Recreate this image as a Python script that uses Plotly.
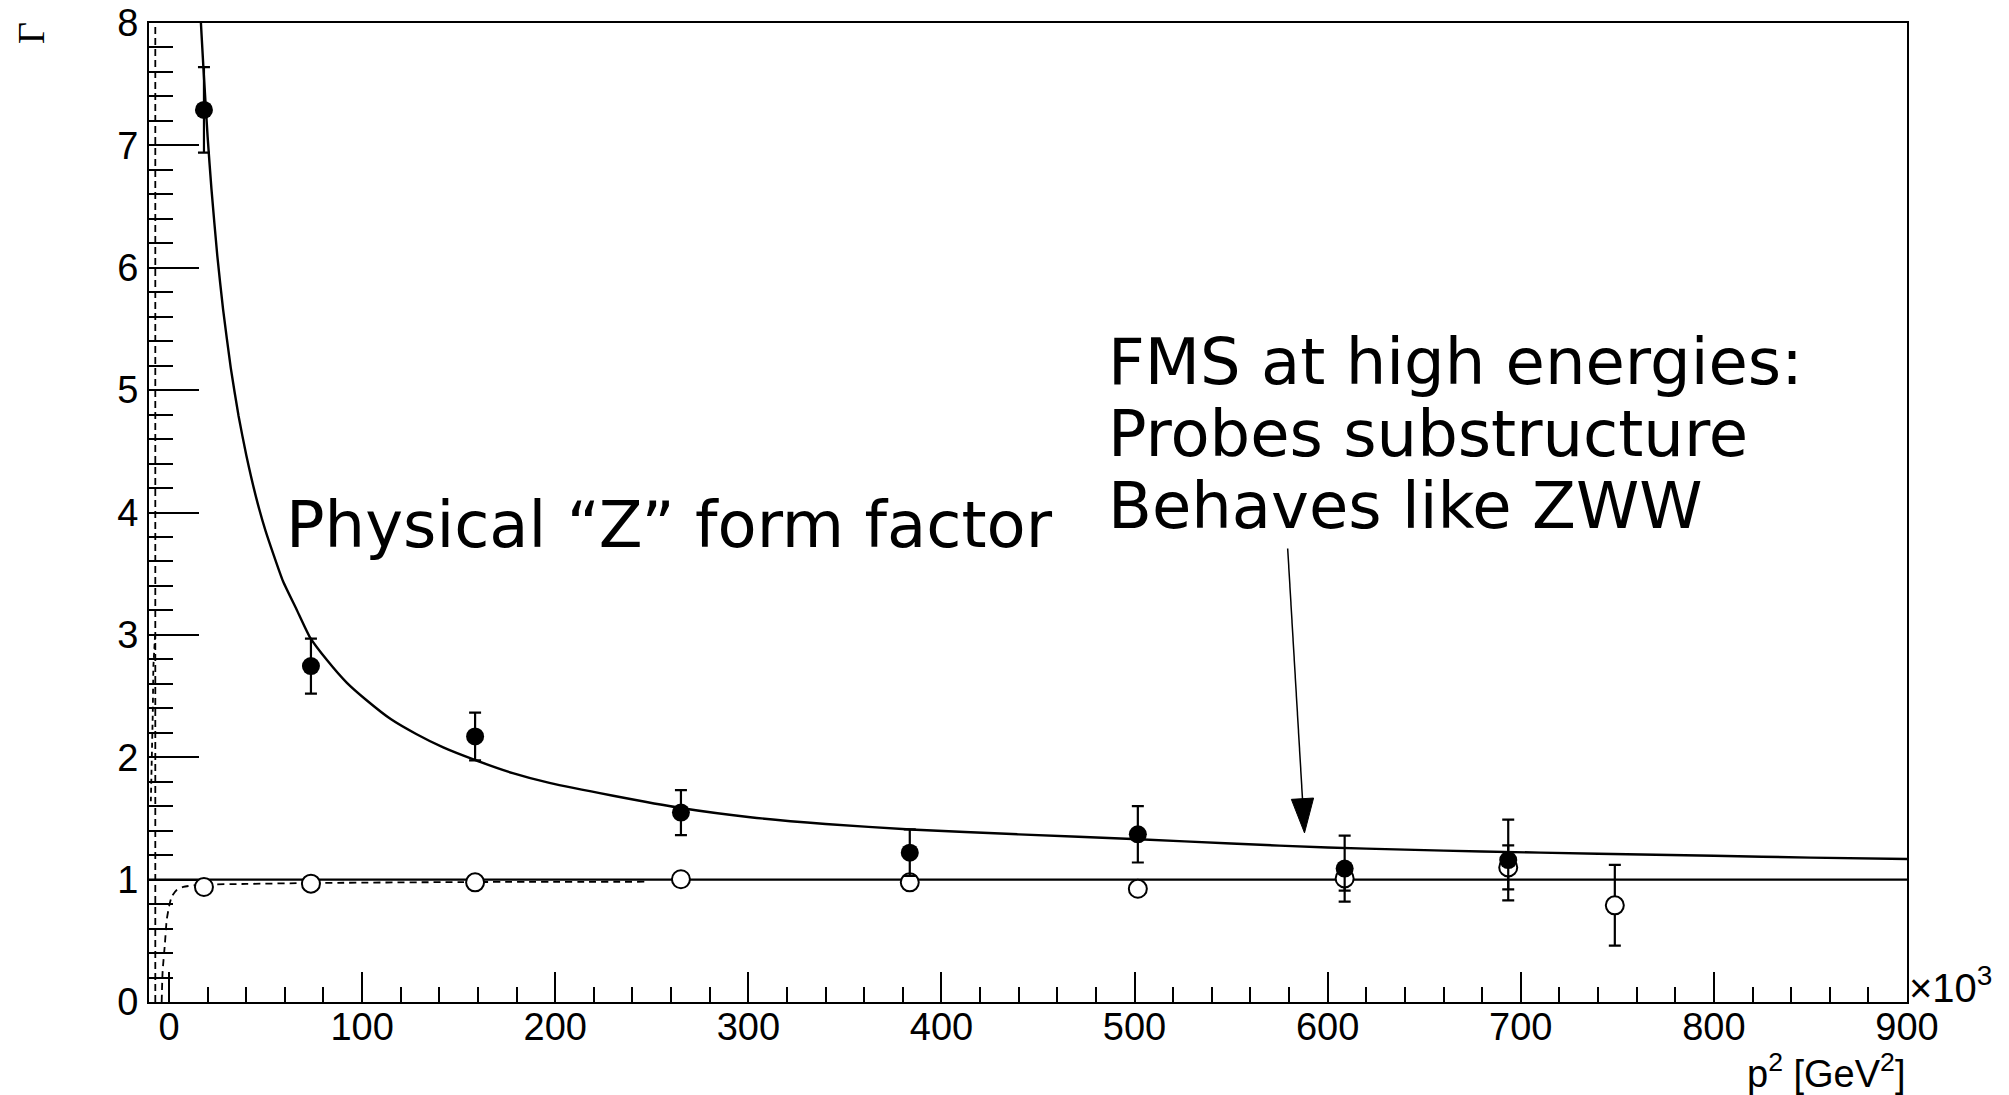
import plotly.graph_objects as go

# p^2 in units of 10^3 GeV^2
p2_full = [18.1, 73.5, 158.5, 265.1, 383.6, 501.7, 608.8, 693.5]
gamma_full = [7.29, 2.745, 2.17, 1.548, 1.22, 1.37, 1.09, 1.16]
err_full = [0.35, 0.225, 0.195, 0.184, 0.19, 0.23, 0.27, 0.33]

p2_open = [18.1, 73.5, 158.5, 265.1, 383.6, 501.7, 608.8, 693.5, 748.7]
gamma_open = [0.94, 0.967, 0.978, 1.003, 0.978, 0.925, 1.01, 1.10, 0.79]
err_open = [0.02, 0.02, 0.02, 0.02, 0.02, 0.02, 0.10, 0.18, 0.33]

# fitted form factor (solid curve)
fit_p2 = [15.0, 16.0, 17.8, 20.0, 22.0, 25.0, 28.0, 32.0, 36.0, 40.0, 45.0, 50.0,
          59.0, 66.0, 73.0, 82.0, 92.0, 102.0, 115.0, 128.0, 142.0, 158.0, 178.0,
          197.0, 230.0, 265.0, 301.0, 340.0, 384.0, 440.0, 502.0, 550.0, 600.0,
          640.0, 680.0, 740.0, 800.0, 850.0, 900.0]
fit_gamma = [8.45, 8.15, 7.64, 7.07, 6.64, 6.10, 5.66, 5.18, 4.79, 4.47, 4.13, 3.85,
             3.44, 3.21, 2.98, 2.79, 2.61, 2.47, 2.31, 2.19, 2.08, 1.98, 1.87,
             1.79, 1.685, 1.585, 1.51, 1.455, 1.41, 1.37, 1.33, 1.295, 1.262,
             1.245, 1.23, 1.212, 1.195, 1.18, 1.168]

# fit to the open points (dashed curve, ends at p^2 = 248)
fit2_p2 = [-3.8, -3.3, -2.1, -1.2, 0.3, 1.4, 4.0, 7.4, 13.5, 20.0, 40.0, 73.0, 150.0, 248.0]
fit2_gamma = [0.0, 0.25, 0.48, 0.67, 0.80, 0.86, 0.915, 0.94, 0.955, 0.96, 0.965, 0.972, 0.98, 0.983]

# dashed branch close to p^2 = 0
vert_p2 = [-7.1, -7.1]
vert_gamma = [0.0, 8.0]
wig_p2 = [-7.2, -8.1, -8.4, -9.0, -9.3, -9.4]
wig_gamma = [3.0, 2.74, 2.36, 1.98, 1.73, 1.64]

unity_p2 = [-10.36, 900.0]
unity_gamma = [1.0, 1.0]

# arrow pointing to the curve (tail, tip)
arrow_p2 = [579.3, 588.0]
arrow_gamma = [3.706, 1.382]

x_range = [-10.36, 900.0]
y_range = [0.0, 8.0]

W, H = 2009, 1095
L, R, T, B = 149, 102, 23, 93

fig = go.Figure()

fig.add_trace(go.Scatter(x=unity_p2, y=unity_gamma, mode="lines",
                         line=dict(color="black", width=2.2), hoverinfo="skip"))
fig.add_trace(go.Scatter(x=vert_p2, y=vert_gamma, mode="lines",
                         line=dict(color="black", width=1.8, dash="7px,4px"), hoverinfo="skip"))
fig.add_trace(go.Scatter(x=wig_p2, y=wig_gamma, mode="lines",
                         line=dict(color="black", width=1.8, dash="5px,4px"), hoverinfo="skip"))
fig.add_trace(go.Scatter(x=fit2_p2, y=fit2_gamma, mode="lines",
                         line=dict(color="black", width=1.8, dash="7px,5px", shape="spline", smoothing=0.6),
                         hoverinfo="skip"))
fig.add_trace(go.Scatter(x=fit_p2, y=fit_gamma, mode="lines",
                         line=dict(color="black", width=2.4, shape="spline", smoothing=0.5),
                         hoverinfo="skip"))

fig.add_trace(go.Scatter(
    x=p2_open, y=gamma_open, mode="markers",
    marker=dict(symbol="circle", size=18, color="white", line=dict(color="black", width=2)),
    error_y=dict(type="data", array=err_open, color="black", thickness=2.2, width=6),
))
fig.add_trace(go.Scatter(
    x=p2_full, y=gamma_full, mode="markers",
    marker=dict(symbol="circle", size=18, color="black", line=dict(color="black", width=0)),
    error_y=dict(type="data", array=err_full, color="black", thickness=2.2, width=6),
))

fig.add_trace(go.Scatter(
    x=arrow_p2, y=arrow_gamma, mode="lines+markers",
    line=dict(color="black", width=1.5),
    marker=dict(symbol="arrow", size=[0, 36], color="black", angleref="previous",
                opacity=1, line=dict(color="black", width=1)),
    hoverinfo="skip",
))

tick_font = dict(family="Liberation Sans, Arial, sans-serif", size=38, color="black")
text_font = dict(family="DejaVu Sans, sans-serif", size=64, color="black")

fig.update_layout(
    width=W, height=H,
    margin=dict(l=L, r=R, t=T, b=B, pad=0, autoexpand=False),
    paper_bgcolor="white", plot_bgcolor="white",
    showlegend=False,
    xaxis=dict(range=x_range, tickmode="linear", tick0=0, dtick=100, automargin=False,
               ticks="inside", ticklen=30, tickwidth=2, tickcolor="black",
               minor=dict(dtick=20, ticks="inside", ticklen=15, tickwidth=2, tickcolor="black"),
               showline=True, linewidth=2, linecolor="black", mirror=True,
               showgrid=False, zeroline=False, tickfont=tick_font, ticklabelstandoff=-10),
    yaxis=dict(range=y_range, tickmode="linear", tick0=0, dtick=1, automargin=False,
               ticks="inside", ticklen=50, tickwidth=2, tickcolor="black",
               minor=dict(dtick=0.2, ticks="inside", ticklen=24, tickwidth=2, tickcolor="black"),
               showline=True, linewidth=2, linecolor="black", mirror=True,
               showgrid=False, zeroline=False, tickfont=tick_font, ticklabelstandoff=1),
)


def px_to_paper(px, py):
    return (px - L) / (W - L - R), (H - B - py) / (H - T - B)


ann = []
gx, gy = px_to_paper(31, 33)
ann.append(dict(text="Γ", x=gx, y=gy, xref="paper", yref="paper", showarrow=False,
                textangle=-90, xanchor="center", yanchor="middle",
                font=dict(family="Liberation Serif, serif", size=38, color="black")))
tx, ty = px_to_paper(1907, 1071)
ann.append(dict(text="p<sup>2</sup> [GeV<sup>2</sup>]", x=tx, y=ty, xref="paper", yref="paper",
                showarrow=False, xanchor="right", yanchor="middle", font=tick_font))
mx, my = px_to_paper(1907, 985)
ann.append(dict(text="×10<sup>3</sup>", x=mx, y=my, xref="paper", yref="paper",
                showarrow=False, xanchor="left", yanchor="middle",
                font=dict(family="Liberation Sans, Arial, sans-serif", size=40, color="black")))

ann.append(dict(text="Physical “Z” form factor", x=59.6, y=3.90, xref="x", yref="y",
                showarrow=False, xanchor="left", yanchor="middle", font=text_font))
for line_text, yy in [("FMS at high energies:", 5.23),
                      ("Probes substructure", 4.64),
                      ("Behaves like ZWW", 4.05)]:
    ann.append(dict(text=line_text, x=485.3, y=yy, xref="x", yref="y",
                    showarrow=False, xanchor="left", yanchor="middle", font=text_font))

fig.update_layout(annotations=ann)

fig.write_html("out.html")
